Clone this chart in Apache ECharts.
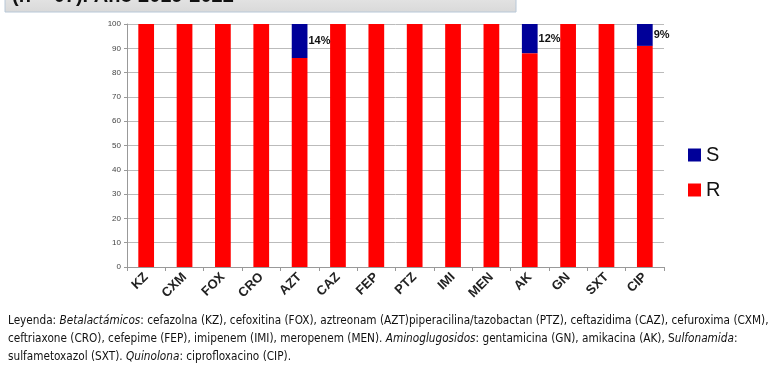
<!DOCTYPE html>
<html><head><meta charset="utf-8">
<script src="https://cdn.jsdelivr.net/npm/echarts@6/dist/echarts.min.js"></script>
<style>html,body{margin:0;padding:0;background:#fff}#c{width:779px;height:384px}</style>
</head><body><div id="c"></div>
<script>
var categories = ['KZ','CXM','FOX','CRO','AZT','CAZ','FEP','PTZ','IMI','MEN','AK','GN','SXT','CIP'];
var valuesR = [100,100,100,100,86,100,100,100,100,100,88,100,100,91];
var valuesS = [0,0,0,0,14,0,0,0,0,0,12,0,0,9];
var yTicks = [0,10,20,30,40,50,60,70,80,90,100];
var titleText = '(n = 07). Año 2019-2022';
var captionLines = [
  '{n|Leyenda: }{i|Betalactámicos}{n|: cefazolna (KZ), cefoxitina (FOX), aztreonam (AZT)piperacilina/tazobactan (PTZ), ceftazidima (CAZ), cefuroxima (CXM),}',
  '{n|ceftriaxone (CRO), cefepime (FEP), imipenem (IMI), meropenem (MEN). }{i|Aminoglugosidos}{n|: gentamicina (GN), amikacina (AK), S}{i|ulfonamida}{n|:}',
  '{n|sulfametoxazol (SXT). }{i|Quinolona}{n|: ciprofloxacino (CIP).}'
];

var chart = echarts.init(document.getElementById('c'));
var capFam = 'Liberation Sans Narrow, DejaVu Sans Condensed, Liberation Sans';
var capSize = 11.7;
var graphics = [
  {type:'rect', shape:{x:5,y:-20,width:511,height:32},
   style:{fill:new echarts.graphic.LinearGradient(0,0,0,1,[{offset:0,color:'#f0f0f0'},{offset:1,color:'#d9d9d9'}]), stroke:'#b8c8d8', lineWidth:1}},
  {type:'text', left:12, top:-14, style:{text:titleText, font:'bold 20px Liberation Sans', fill:'#111'}}
];
captionLines.forEach(function(t,i){
  graphics.push({type:'text', left:8, top:315+i*18, style:{text:t, rich:{
    n:{fontFamily:capFam,fontSize:capSize,fill:'#111',fontWeight:'normal'},
    i:{fontFamily:capFam,fontSize:capSize,fill:'#111',fontStyle:'italic'}}}});
});

chart.setOption({
  animation:false,
  grid:{left:127,right:115,top:24,bottom:117,containLabel:false},
  legend:{data:['S','R'], orient:'vertical', left:683, top:140, itemWidth:13, itemHeight:13, itemGap:15,
    textStyle:{fontSize:20, color:'#111', fontFamily:'Liberation Sans Narrow, Liberation Sans'}, icon:'rect'},
  xAxis:{type:'category', data:categories,
    axisLine:{lineStyle:{color:'#999'}},
    axisTick:{show:true, length:4, lineStyle:{color:'#999'}},
    axisLabel:{rotate:45, fontSize:13, fontWeight:'bold', color:'#222', margin:8, fontFamily:'Liberation Sans'}},
  yAxis:{type:'value', min:0, max:100, interval:10,
    axisLine:{show:true, lineStyle:{color:'#999'}},
    axisTick:{show:true, length:3, lineStyle:{color:'#999'}},
    splitLine:{lineStyle:{color:'#bbb'}},
    axisLabel:{fontSize:8, color:'#444', margin:6,
      formatter:function(v){return yTicks.indexOf(v)>=0?String(v):'';}}},
  series:[
    {name:'R', type:'bar', stack:'a', data:valuesR, barWidth:'41%', itemStyle:{color:'#ff0000'}},
    {name:'S', type:'bar', stack:'a', data:valuesS, barWidth:'41%', itemStyle:{color:'#000099'},
      label:{show:true, position:'right', distance:1, fontSize:11, fontWeight:'bold', color:'#111',
        formatter:function(p){return p.value>0?p.value+'%':'';}}}
  ],
  graphic:graphics
});
</script></body></html>
